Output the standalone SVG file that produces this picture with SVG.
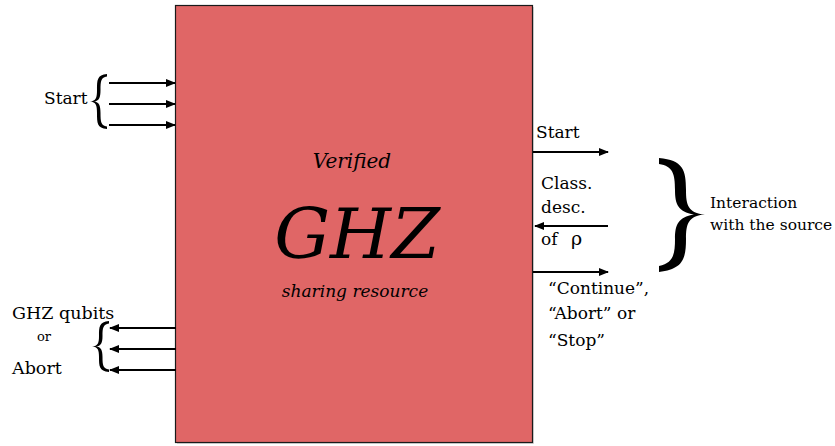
<svg xmlns="http://www.w3.org/2000/svg" width="835" height="446" viewBox="0 0 835 446">
<style>
.t{font-family:"DejaVu Serif",serif;fill:#000}
.s{font-family:"DejaVu Serif",serif;font-style:italic;fill:#000;text-anchor:middle}
.c{stroke:#000;stroke-width:2;fill:none}
.b{fill:#000;stroke:none}
</style>
<defs>
<marker id="ah" markerWidth="10" markerHeight="8" refX="9" refY="4" orient="auto" markerUnits="userSpaceOnUse">
<path d="M0,0 L10,4 L0,8 Z" fill="#000"/>
</marker>
</defs>
<rect width="835" height="446" fill="#fff"/>
<g id="resource">
<rect x="176" y="6" width="357" height="437" fill="#d9d9d9" transform="translate(1,1)"/>
<rect x="175.5" y="5.5" width="357" height="437" fill="#e06666" stroke="#1a1a1a" stroke-width="1.2"/>
<text class="s" x="352" y="168" font-size="20">Verified</text>
<text class="s" x="357" y="258" font-size="70">GHZ</text>
<text class="s" x="355" y="297" font-size="17">sharing resource</text>
</g>
<g id="left-start">
<text class="t" x="44" y="104" font-size="17">Start</text>
<path class="b" d="M107,74 C97,75 97,80 97,90 C97,98 96,101 90,101.5 C96,102 97,105 97,113 C97,123 97,128 107,129 L107,126.5 C101,125.5 100.5,122 100.5,113 C100.5,105 99,102 94,101.5 C99,101 100.5,98 100.5,90 C100.5,81 101,77.5 107,76.5 Z"/>
</g>
<g id="left-output">
<text class="t" x="12" y="319" font-size="17.5">GHZ qubits</text>
<text class="t" x="37" y="341" font-size="13">or</text>
<text class="t" x="12" y="374" font-size="17.5">Abort</text>
<path class="b" d="M109,321 C99,322 99,327 99,336 C99,343 98,346 92,346.5 C98,347 99,350 99,357 C99,366 99,371 109,372 L109,369.5 C103,368.5 102.5,365 102.5,357 C102.5,350 101,347 96,346.5 C101,346 102.5,343 102.5,336 C102.5,328 103,324.5 109,323.5 Z"/>
</g>
<g id="right-labels">
<text class="t" x="536" y="138" font-size="17">Start</text>
<text class="t" x="541" y="189" font-size="17">Class.</text>
<text class="t" x="541" y="213" font-size="17">desc.</text>
<text class="t" x="541" y="245" font-size="17">of<tspan x="571" font-size="19">ρ</tspan></text>
<text class="t" x="548" y="294" font-size="17">“Continue”,</text>
<text class="t" x="548" y="319" font-size="17">“Abort” or</text>
<text class="t" x="548" y="346" font-size="17">“Stop”</text>
</g>
<g id="source">
<path class="b" d="M659,158 C683,160 686,170 686,190 C686,205 688,213 705,214.5 C688,216 686,224 686,239 C686,259 683,269 659,272 L659,266 C673,263 675,255 675,239 C675,225 678,217 694,214.5 C678,212 675,204 675,190 C675,174 673,166 659,164 Z"/>
<text class="t" x="710" y="208" font-size="15.5">Interaction</text>
<text class="t" x="710" y="230" font-size="15.5">with the source</text>
</g>
<g id="connectors">
<line class="c" x1="109" y1="83" x2="175" y2="83" marker-end="url(#ah)"/>
<line class="c" x1="109" y1="104" x2="175" y2="104" marker-end="url(#ah)"/>
<line class="c" x1="109" y1="125" x2="175" y2="125" marker-end="url(#ah)"/>
<line class="c" x1="176" y1="328" x2="110" y2="328" marker-end="url(#ah)"/>
<line class="c" x1="176" y1="349" x2="110" y2="349" marker-end="url(#ah)"/>
<line class="c" x1="176" y1="370" x2="110" y2="370" marker-end="url(#ah)"/>
<line class="c" x1="533" y1="152" x2="608" y2="152" marker-end="url(#ah)"/>
<line class="c" x1="608" y1="226" x2="535" y2="226" marker-end="url(#ah)"/>
<line class="c" x1="533" y1="272" x2="608" y2="272" marker-end="url(#ah)"/>
</g>
</svg>
